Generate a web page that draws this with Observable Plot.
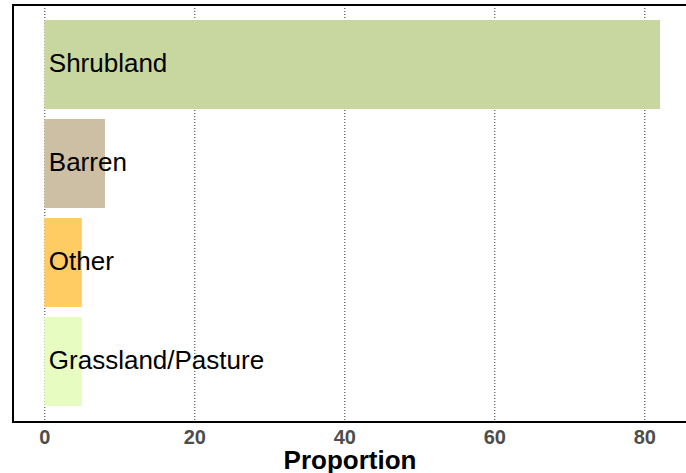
<!DOCTYPE html>
<html>
<head>
<meta charset="utf-8">
<script src="https://cdn.jsdelivr.net/npm/d3@7"></script>
<script src="https://cdn.jsdelivr.net/npm/@observablehq/plot@0.6"></script>
<style>
  html, body { margin: 0; padding: 0; background: #fff; }
  #chart { width: 686px; height: 473px; overflow: hidden; }
</style>
</head>
<body>
<div id="chart"></div>
<script>
const categories = ["Shrubland", "Barren", "Other", "Grassland/Pasture"];
const proportions = [82.1, 8.1, 5.0, 5.0];
const colors = ["#c8d6a0", "#cdbfa4", "#ffcb63", "#e7fcc1"];
const xTicks = [0, 20, 40, 60, 80];
const xLabel = "Proportion";

const data = categories.map((c, i) => ({category: c, value: proportions[i], color: colors[i]}));

const panelLines = (index, scales, values, dims) => {
  const {marginLeft, marginTop, marginBottom, width, height} = dims;
  const g = document.createElementNS("http://www.w3.org/2000/svg", "path");
  const L = marginLeft, T = marginTop, R = width, B = height - marginBottom;
  g.setAttribute("d", `M${R},${T}H${L}V${B}H${R}`);
  g.setAttribute("fill", "none");
  g.setAttribute("stroke", "#000");
  g.setAttribute("stroke-width", "2");
  return g;
};

const chart = Plot.plot({
  width: 686,
  height: 473,
  marginLeft: 13,
  marginRight: 0,
  marginTop: 5,
  marginBottom: 51,
  style: {fontFamily: "'Liberation Sans', Arial, Helvetica, sans-serif", background: "#fff"},
  x: {domain: [-4.173, 85.56], axis: null},
  y: {domain: categories, paddingInner: 0.1, paddingOuter: 0.15, axis: null},
  marks: [
    Plot.gridX(xTicks, {stroke: "#333", strokeOpacity: 1, strokeDasharray: "1,2", strokeWidth: 1}),
    Plot.barX(data, {x1: 0, x2: "value", y: "category", fill: "color"}),
    Plot.text(data, {x: 0, y: "category", text: "category", textAnchor: "start", dx: 4, dy: -1, fontSize: 26, fill: "#000"}),
    Plot.text(xTicks, {x: d => d, frameAnchor: "bottom", lineAnchor: "top", dy: 7, text: d => String(d), fontSize: 20, fontWeight: "bold", fill: "#4d4d4d"}),
    Plot.text([xLabel], {frameAnchor: "bottom", lineAnchor: "middle", text: d => d, dy: 38, fontSize: 26, fontWeight: "bold", fill: "#000"}),
    panelLines
  ]
});
document.getElementById("chart").appendChild(chart);
</script>
</body>
</html>
